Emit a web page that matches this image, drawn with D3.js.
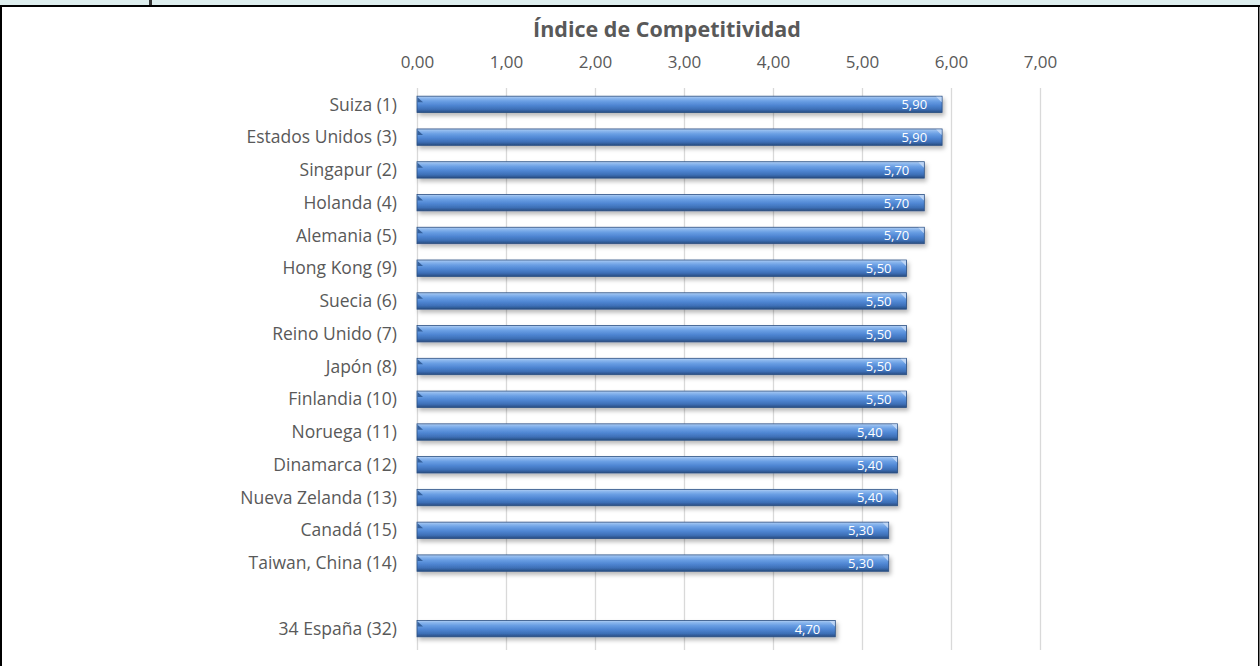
<!DOCTYPE html>
<html><head><meta charset="utf-8">
<script src="https://cdn.jsdelivr.net/npm/d3@7"></script>
<style>body{margin:0;background:#fff}svg{display:block}</style>
</head><body>
<svg id="c" width="1260" height="666"></svg>
<script>
const categories = ["Suiza (1)","Estados Unidos (3)","Singapur (2)","Holanda (4)","Alemania (5)","Hong Kong (9)","Suecia (6)","Reino Unido (7)","Japón (8)","Finlandia (10)","Noruega (11)","Dinamarca (12)","Nueva Zelanda (13)","Canadá (15)","Taiwan, China (14)","","34 España (32)"];
const values = [5.9,5.9,5.7,5.7,5.7,5.5,5.5,5.5,5.5,5.5,5.4,5.4,5.4,5.3,5.3,null,4.7];
const tickValues = [0,1,2,3,4,5,6,7];
const title = "Índice de Competitividad";

const svg = d3.select("#c");
const font = "'Open Sans', 'Noto Sans', sans-serif";
const fmt = v => d3.format(".2f")(v).replace(".", ",");

// frame
svg.append("rect").attr("x",0).attr("y",0).attr("width",1260).attr("height",5).attr("fill","#ddeeee");
svg.append("rect").attr("x",149).attr("y",0).attr("width",3).attr("height",5).attr("fill","#333");
svg.append("rect").attr("x",0).attr("y",5).attr("width",1260).attr("height",2).attr("fill","#000");
svg.append("rect").attr("x",0).attr("y",5).attr("width",2).attr("height",661).attr("fill","#000");
svg.append("rect").attr("x",1258).attr("y",5).attr("width",1.5).attr("height",661).attr("fill","#000");

const x = d3.scaleLinear().domain([0,7]).range([417,1040]);
const y = d3.scaleBand().domain(d3.range(categories.length)).range([88,645]).paddingInner(0.5).paddingOuter(0.25);

const defs = svg.append("defs");
const g = defs.append("linearGradient").attr("id","bg").attr("x1",0).attr("y1",0).attr("x2",0).attr("y2",1);
[[0,"#b5d0f3"],[0.12,"#8db8ee"],[0.3,"#6a9fe4"],[0.55,"#4f86d3"],[0.8,"#3d6fb6"],[1,"#284c80"]].forEach(s=>g.append("stop").attr("offset",s[0]).attr("stop-color",s[1]));
const f = defs.append("filter").attr("id","sh").attr("x","-5%").attr("y","-50%").attr("width","110%").attr("height","220%");
f.append("feDropShadow").attr("dx",2).attr("dy",3).attr("stdDeviation",2).attr("flood-color","#000").attr("flood-opacity",0.28);

// title
svg.append("text").attr("x",667).attr("y",37).attr("text-anchor","middle")
  .attr("font-family",font).attr("font-weight","bold").attr("font-size",21.5).attr("fill","#595959").text(title);

// grid
svg.append("g").selectAll("line").data(tickValues).join("line")
  .attr("x1",d=>x(d)+0.5).attr("x2",d=>x(d)+0.5).attr("y1",88).attr("y2",650)
  .attr("stroke","#d9d9d9").attr("stroke-width",1.3);

// axis top
const ax = svg.append("g").attr("transform","translate(0,88)")
  .call(d3.axisTop(x).tickValues(tickValues).tickFormat(fmt).tickSize(0).tickPadding(20));
ax.select(".domain").remove();
ax.selectAll("text").attr("font-family",font).attr("font-size",17).attr("fill","#595959");

// category labels
svg.append("g").selectAll("text").data(categories).join("text")
  .attr("x",397).attr("y",(d,i)=>y(i)+y.bandwidth()/2).attr("dy","0.35em")
  .attr("text-anchor","end").attr("font-family",font).attr("font-size",17.5).attr("fill","#595959").text(d=>d);

const data = values.map((v,i)=>({v,i})).filter(d=>d.v!=null);
const bars = svg.append("g").selectAll("g").data(data).join("g");
bars.append("rect").attr("x",x(0)).attr("y",d=>y(d.i)).attr("width",d=>x(d.v)-x(0)).attr("height",y.bandwidth())
  .attr("fill","url(#bg)").attr("stroke","#2b4f82").attr("stroke-width",0.8).attr("filter","url(#sh)");
// left bevel
bars.append("path").attr("d",d=>{const y0=y(d.i),x0=x(0);return `M${x0+0.5},${y0+1}L${x0+6},${y0+6}L${x0+0.5},${y0+6}Z`;})
  .attr("fill","#2f5a95").attr("opacity",0.9);
// right bevel
bars.append("path").attr("d",d=>{const y0=y(d.i),x1=x(d.v);return `M${x1-0.5},${y0+0.5}L${x1-0.5},${y0+6}L${x1-6},${y0+0.5}Z`;})
  .attr("fill","#c3d8f5").attr("opacity",0.9);
bars.append("text").attr("x",d=>x(d.v)-15).attr("y",d=>y(d.i)+y.bandwidth()/2).attr("dy","0.38em")
  .attr("text-anchor","end").attr("font-family",font).attr("font-size",13).attr("fill","#fff").text(d=>fmt(d.v));
</script>
</body></html>
